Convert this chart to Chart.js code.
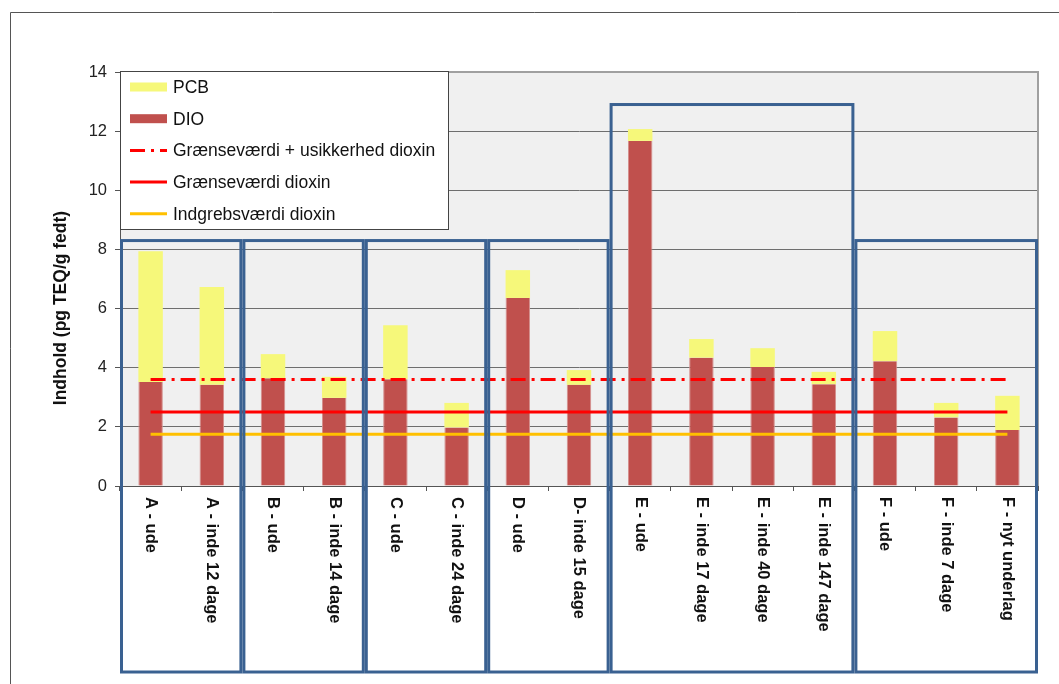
<!DOCTYPE html>
<html>
<head>
<meta charset="utf-8">
<script src="https://cdn.jsdelivr.net/npm/chart.js@4/dist/chart.umd.min.js"></script>
<style>
html,body{margin:0;padding:0;background:#fff;}
canvas{display:block;}
</style>
</head>
<body>
<canvas id="c" width="1059" height="684"></canvas>
<script>
const categories = ['A - ude','A - inde 12 dage','B - ude','B - inde 14 dage','C - ude','C - inde 24 dage','D - ude','D- inde 15 dage','E - ude','E - inde 17 dage','E - inde 40 dage','E - inde 147 dage','F - ude','F - inde 7 dage','F - nyt underlag'];
const dioValues = [3.52,3.42,3.64,2.98,3.61,1.98,6.36,3.42,11.67,4.34,4.02,3.44,4.22,2.32,1.89];
const pcbValues = [4.42,3.31,0.82,0.71,1.83,0.83,0.94,0.50,0.40,0.63,0.64,0.42,1.02,0.49,1.16];
const limitPlusUncertainty = 3.6;
const limitValue = 2.5;
const actionValue = 1.75;
const yTicks = [0,2,4,6,8,10,12,14];
const yTitle = 'Indhold (pg TEQ/g fedt)';
// location groups: first and last category index, top of box (in y units)
const groupStart = [0,2,4,6,8,12];
const groupEnd   = [1,3,5,7,11,14];
const groupTop   = [8.3,8.3,8.3,8.3,12.9,8.3];

const FONT = "'Liberation Sans', Arial, sans-serif";
const firstCat = categories[0], lastCat = categories[categories.length-1];

const bgPlugin = {
  id:'bg',
  beforeDraw(chart){
    const {ctx, chartArea:a} = chart;
    ctx.save();
    ctx.fillStyle = '#fff';
    ctx.fillRect(0,0,chart.width,chart.height);
    ctx.fillStyle = '#F0F0F0';
    ctx.fillRect(a.left,a.top,a.right-a.left,a.bottom-a.top);
    ctx.strokeStyle = '#555';
    ctx.lineWidth = 1;
    ctx.beginPath();
    ctx.moveTo(10.5, chart.height);
    ctx.lineTo(10.5, 12.5);
    ctx.lineTo(chart.width, 12.5);
    ctx.stroke();
    ctx.restore();
  },
  afterDraw(chart){
    const {ctx, chartArea:a, scales:{x,y}} = chart;
    ctx.save();
    ctx.strokeStyle = '#A0A0A0';
    ctx.lineWidth = 2;
    ctx.beginPath();
    ctx.moveTo(a.left, a.top);
    ctx.lineTo(a.right, a.top);
    ctx.lineTo(a.right, a.bottom);
    ctx.stroke();
    const half = (x.getPixelForValue(1) - x.getPixelForValue(0))/2;
    ctx.strokeStyle = '#3A6191';
    ctx.lineWidth = 3;
    const bottom = a.bottom + 186;
    for (let i=0;i<groupStart.length;i++){
      const l = x.getPixelForValue(groupStart[i]) - half + 1.5;
      const r = x.getPixelForValue(groupEnd[i]) + half - 1.5;
      const t = y.getPixelForValue(groupTop[i]);
      ctx.strokeRect(l, t, r-l, bottom-t);
    }
    ctx.fillStyle = '#111';
    ctx.font = 'bold 16.5px ' + FONT;
    ctx.textAlign = 'left';
    ctx.textBaseline = 'middle';
    categories.forEach((c,i)=>{
      const px = x.getPixelForValue(i);
      ctx.save();
      ctx.translate(px, a.bottom + 11);
      ctx.rotate(Math.PI/2);
      ctx.fillText(c, 0, 0);
      ctx.restore();
    });
    ctx.save();
    ctx.font = 'bold 17.5px ' + FONT;
    ctx.fillStyle = '#111';
    ctx.textAlign = 'center';
    ctx.textBaseline = 'middle';
    ctx.translate(61, 308);
    ctx.rotate(-Math.PI/2);
    ctx.fillText(yTitle, 0, 0);
    ctx.restore();
    const lx = a.left, ly = a.top - 1, lw = 329, lh = 159;
    ctx.fillStyle = '#fff';
    ctx.fillRect(lx, ly, lw, lh);
    ctx.strokeStyle = '#444';
    ctx.lineWidth = 1;
    ctx.strokeRect(lx+0.5, ly+0.5, lw-1, lh-1);
    const order = [1,0,2,3,4];
    ctx.font = '17.5px ' + FONT;
    ctx.textAlign = 'left';
    ctx.textBaseline = 'middle';
    order.forEach((di,k)=>{
      const ds = chart.data.datasets[di];
      const cy = ly + 16 + k*31.7;
      const sx = lx + 10, sw = 37;
      if (ds.type === 'line'){
        ctx.strokeStyle = ds.borderColor;
        ctx.lineWidth = 3;
        ctx.setLineDash(ds.borderDash || []);
        ctx.beginPath();
        ctx.moveTo(sx, cy); ctx.lineTo(sx+sw, cy);
        ctx.stroke();
        ctx.setLineDash([]);
      } else {
        ctx.fillStyle = ds.backgroundColor;
        ctx.fillRect(sx, cy-4.5, sw, 9);
      }
      ctx.fillStyle = '#111';
      ctx.fillText(ds.label, lx + 53, cy + 1);
    });
    ctx.restore();
  }
};

const lineDs = (label, value, color, dash, stack) => ({
  type:'line', label, stack,
  data:[{x:firstCat,y:value},{x:lastCat,y:value}],
  borderColor:color, borderWidth:3, borderDash:dash,
  pointRadius:0, fill:false, order:0
});

new Chart(document.getElementById('c'), {
  type:'bar',
  data:{
    labels:categories,
    datasets:[
      {label:'DIO', data:dioValues, backgroundColor:'#C0504D', stack:'s', order:1,
       barPercentage:0.4, categoryPercentage:1, borderWidth:{left:1,right:1,top:0,bottom:0}, borderColor:'#D48F8D'},
      {label:'PCB', data:pcbValues, backgroundColor:'#F6F87A', stack:'s', order:1,
       barPercentage:0.4, categoryPercentage:1, borderWidth:0},
      lineDs('Grænseværdi + usikkerhed dioxin', limitPlusUncertainty, '#FF0000', [15,6,3,6], 'l1'),
      lineDs('Grænseværdi dioxin', limitValue, '#FF0000', undefined, 'l2'),
      lineDs('Indgrebsværdi dioxin', actionValue, '#FFC000', undefined, 'l3')
    ]
  },
  options:{
    responsive:false,
    devicePixelRatio:1,
    animation:false,
    layout:{padding:{top:72,right:21,left:0,bottom:0}},
    plugins:{legend:{display:false},tooltip:{enabled:false},title:{display:false}},
    scales:{
      x:{
        stacked:true,
        offset:true,
        ticks:{display:false},
        grid:{display:true, drawOnChartArea:false, drawTicks:true, tickLength:5, offset:true, color:'#555', tickColor:'#555'},
        border:{display:true, color:'#555', width:1},
        afterFit(s){ s.height = 198; }
      },
      y:{
        stacked:true,
        min:0, max:14,
        afterBuildTicks(s){ s.ticks = yTicks.map(v=>({value:v})); },
        ticks:{font:{family:FONT,size:16.5}, color:'#222', padding:8},
        grid:{color:'#6E6E6E', lineWidth:1, tickLength:5, tickColor:'#555'},
        border:{display:true, color:'#555', width:1},
        afterFit(s){ s.width = 120; }
      }
    }
  },
  plugins:[bgPlugin]
});
</script>
</body>
</html>
